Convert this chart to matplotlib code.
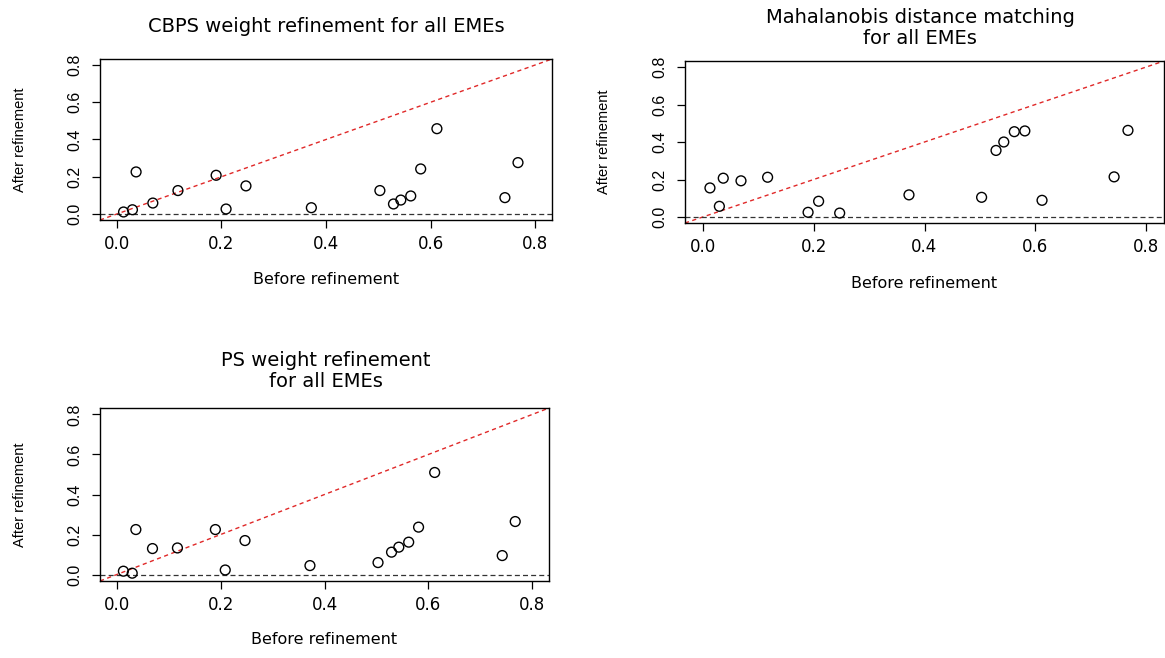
import matplotlib
matplotlib.use('Agg')
import matplotlib.pyplot as plt

plt.rcParams['font.family'] = ['DejaVu Sans']

# balance before refinement (same EMEs in every panel)
before = [0.013, 0.030, 0.037, 0.069, 0.117, 0.190, 0.209, 0.247, 0.372,
          0.503, 0.529, 0.543, 0.562, 0.581, 0.612, 0.742, 0.767]

# after refinement, one list per method
after_cbps = [0.011, 0.023, 0.226, 0.059, 0.126, 0.208, 0.027, 0.151, 0.034,
              0.126, 0.054, 0.075, 0.097, 0.242, 0.458, 0.088, 0.276]
after_maha = [0.155, 0.057, 0.207, 0.193, 0.212, 0.025, 0.084, 0.021, 0.118,
              0.105, 0.355, 0.400, 0.455, 0.459, 0.089, 0.214, 0.462]
after_ps = [0.017, 0.007, 0.225, 0.130, 0.133, 0.225, 0.023, 0.170, 0.045,
            0.060, 0.112, 0.137, 0.162, 0.237, 0.510, 0.095, 0.265]

titles = ['CBPS weight refinement for all EMEs',
          'Mahalanobis distance matching\nfor all EMEs',
          'PS weight refinement\nfor all EMEs']
ticks = [0.0, 0.2, 0.4, 0.6, 0.8]

W, H = 1165, 658
fig = plt.figure(figsize=(W / 100, H / 100), dpi=100)
fig.patch.set_facecolor('white')

# panel boxes in pixels: left, top, right, bottom
boxes = [(100, 59, 552, 220), (685, 61, 1164, 223), (100, 408, 549, 581)]
title_pos = [(326, 27), (920, 28), (326, 371)]
xlab_y = [279, 283, 640]
ylab_x = [20, 604, 20]

for i, after in enumerate([after_cbps, after_maha, after_ps]):
    l, t, r, b = boxes[i]
    ax = fig.add_axes([l / W, 1 - b / H, (r - l) / W, (b - t) / H])
    ax.scatter(before, after, s=50, facecolors='none', edgecolors='black',
               linewidths=1.0, zorder=3)
    ax.axline((0, 0), slope=1, color='#e02828', lw=1.0, dashes=(3, 2.5))
    ax.axhline(0, color='#333333', lw=0.9, dashes=(4, 2.5))
    ax.set_xlim(-0.032, 0.832)
    ax.set_ylim(-0.032, 0.832)
    ax.set_xticks(ticks)
    ax.set_yticks(ticks)
    ax.set_xticklabels(['%.1f' % v for v in ticks], fontsize=12)
    ax.set_yticklabels(['%.1f' % v for v in ticks], fontsize=11.5,
                       family='Liberation Sans', rotation=90, va='center')
    ax.tick_params(direction='out', length=6, width=0.9, pad=5)
    ax.tick_params(axis='y', pad=7)
    for s in ax.spines.values():
        s.set_linewidth(1.0)
    tx, ty = title_pos[i]
    fig.text(tx / W, 1 - ty / H, titles[i], ha='center', va='center',
             fontsize=14, linespacing=1.1)
    fig.text(((l + r) / 2) / W, 1 - xlab_y[i] / H, 'Before refinement',
             ha='center', va='center', fontsize=11.5)
    fig.text(ylab_x[i] / W, 1 - ((t + b) / 2) / H, 'After refinement',
             ha='center', va='center', fontsize=10.5,
             family='Liberation Sans', rotation=90)

fig.savefig('out.png', dpi=100)
